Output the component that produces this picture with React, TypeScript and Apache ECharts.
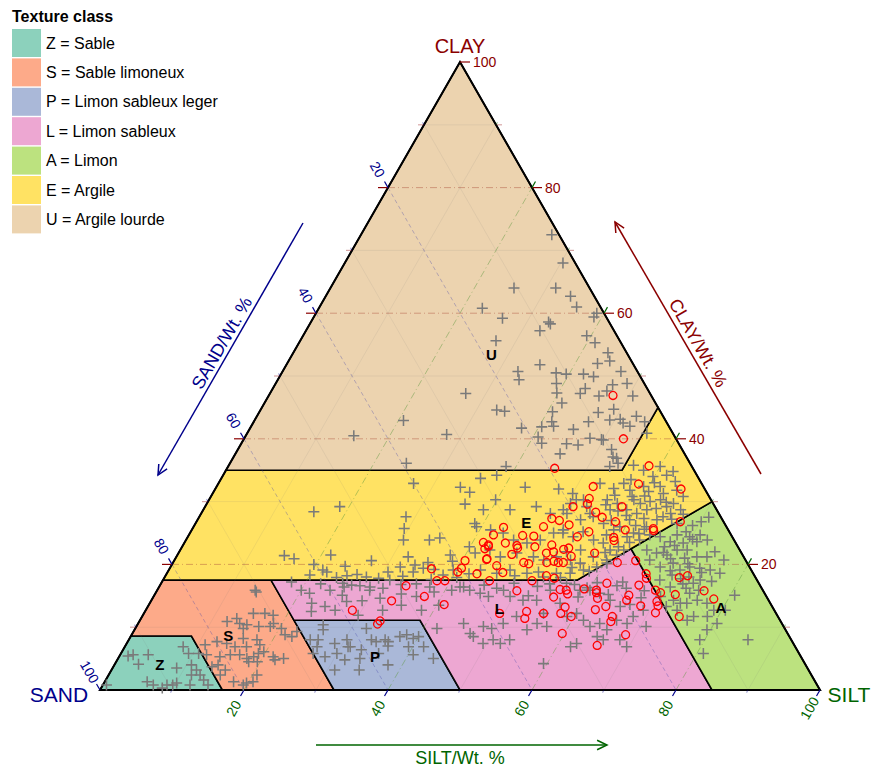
import React, { useEffect, useRef } from 'react';
import * as echarts from 'echarts';

// ---------------- data ----------------
const FONT = 'Liberation Sans, Arial, Helvetica, sans-serif';
const classNames = ['Z = Sable', 'S = Sable limoneux', 'P = Limon sableux leger', 'L = Limon sableux', 'A = Limon', 'E = Argile', 'U = Argile lourde'];
const classCodes = ['Z', 'S', 'P', 'L', 'A', 'E', 'U'];
const classColors = ['#8cd1bc', '#fdaa89', '#aab8d8', '#eda7d2', '#bce27f', '#ffe263', '#ecd3af'];

// class boundaries, vertices as [clay %, silt %]
const polyZ = [[0, 0], [0, 17], [8.6, 8.4], [8.6, 0]];
const polyS = [[8.6, 0], [17.5, 0], [17.5, 15], [11.1, 21.4], [0, 32.5], [0, 17], [8.6, 8.4]];
const polyP = [[0, 32.5], [11.1, 21.4], [11.1, 38.9], [0, 50]];
const polyL = [[17.5, 15], [17.5, 57.5], [20, 60], [22.5, 62.5], [0, 85], [0, 50], [11.1, 38.9], [11.1, 21.4]];
const polyA = [[22.5, 62.5], [30, 70], [0, 100], [0, 85]];
const polyE = [[17.5, 0], [35, 0], [35, 55], [45, 55], [30, 70], [22.5, 62.5], [20, 60], [17.5, 57.5]];
const polyU = [[35, 0], [100, 0], [45, 55], [35, 55]];
const classPolygons = [polyZ, polyS, polyP, polyL, polyA, polyE, polyU];
const classLabelPos = [[4, 6.3], [8.6, 13.5], [5.4, 35.5], [12.9, 49], [13.1, 79.7], [26.6, 45.9], [53.5, 27.6]];

const tickValues = [10, 20, 30, 40, 50, 60, 70, 80, 90, 100];
const gridValues = [10, 20, 30, 40, 50, 60, 70, 80, 90];

// samples as [clay %, silt %]
const grayPoints = [
  // U
  [72.5, 26.5], [68, 30.3], [64, 25.5], [64, 31.3], [62.7, 34], [61, 35.7], [60.8, 22.7], [59.2, 26.3], [58.6, 33], [58.3, 33.4],
  [57.2, 32.5], [59.4, 38.9], [60, 39], [56.4, 39.4], [55.3, 41.1], [55.6, 27.2], [53.7, 43.7], [52.4, 44.6], [52, 43.1], [51.8, 35.2],
  [50.7, 32.7], [49.4, 33.5], [50.5, 38.1], [50.3, 39.6], [50.3, 42], [49.9, 43.6], [50.7, 47], [48.8, 39], [47.3, 39.8], [47.2, 43.1],
  [48, 43.4], [48.6, 46.9], [47.6, 46.6], [48.8, 48.8], [46.8, 45.9], [46.8, 50.6], [45.7, 41.3], [44.4, 34], [44.3, 40.7], [44.2, 47.1],
  [44.7, 49], [42.7, 46.5], [43, 49.3], [43.1, 50.7], [42.5, 51.4], [42, 52.6], [43.6, 52.7], [42.7, 54.3], [42.7, 41.4], [41.9, 40.4],
  [42, 42], [41.7, 37.7], [40.3, 40.7], [39.3, 41.7], [41.5, 45], [40.1, 48], [39.9, 49.7], [39.2, 45.2], [39, 46.9], [37.6, 45.1],
  [38.3, 51.9], [37.1, 52.7], [36.9, 53.3], [36.1, 53.9], [47.2, 27.2], [42.9, 20.7], [40.5, 15], [40.7, 27.8], [36.1, 24.5], [35.6, 38.6],
  [39.8, 50], [40.9, 55.5], [35.6, 53], [44.6, 32.8],
  // E
  [32.9, 27.1], [29.2, 18.7], [28.4, 15.5], [32.3, 33.9], [31.5, 35.6], [29.6, 35.9], [26.5, 38.8], [27.6, 28.7], [25.7, 29.4], [23.9, 30.2],
  [23.9, 33.8], [24.2, 35.1], [22.8, 39.9], [21.4, 14.9], [20.9, 16.5], [21.5, 21.3], [20, 19.7], [21.2, 32.2], [19.1, 21.4], [18.8, 22.1],
  [19.6, 31.9], [19.9, 33.8], [18.8, 34.1], [18.8, 30.6], [21.5, 37.9], [20.5, 38.7], [19.1, 39.5], [18.3, 20], [17.9, 23.9], [18.2, 25.2],
  [18, 28], [17.8, 29.8], [17.6, 37.2], [18.3, 38.5], [19.4, 35.2],
  [35.8, 56.2], [35, 58], [35.6, 60], [34.2, 61.6], [34.8, 62.2], [34, 59.8], [32.9, 53], [32.1, 55.3], [32.9, 56.3], [31.8, 57.7],
  [32.4, 59.3], [31.6, 60.4], [32.4, 61.6], [31.3, 62.6], [31.8, 64.2], [30.8, 65.6], [31.3, 50], [30.3, 52], [30.3, 55.3], [29.7, 57],
  [30.3, 59], [29.7, 60.2], [30, 61.4], [30.3, 62.7], [29.2, 64.1], [29.7, 64.8], [28.7, 66.3], [28.7, 61.6], [28.1, 60.5], [28.7, 58.8],
  [28.7, 56.5], [28.1, 50.8], [27.1, 53.2], [27.6, 54.7], [26.5, 56.7], [26, 59.2], [27.1, 60], [27.3, 61.9], [26, 62.9], [27.1, 63.8],
  [27.6, 64.4], [28.1, 65.2], [26.5, 66.9], [25, 51.8], [24.4, 53.5], [25.2, 54.5], [23.9, 56.6], [24.7, 58], [25.5, 58.6], [24.4, 61],
  [25, 61.6], [23.9, 63], [24.7, 64], [22, 53.8], [22.3, 55.6], [21.2, 57.9], [20.7, 60], [21.5, 61], [22.3, 61.6],
  [33.7, 36], [34.2, 38], [32.3, 42.9], [32, 47.7], [30.3, 39.8], [28.7, 38.9], [28.7, 42.6], [29.2, 46], [28.1, 48.5], [28.7, 50],
  [29.7, 50.5], [30.3, 51], [29.2, 53], [28.1, 54], [26, 39.3], [25.5, 41.5], [25, 43.5], [23.9, 45.5], [23.4, 47.6], [23.9, 49.2],
  [25, 50.5], [25.5, 51.6], [23.4, 58.2], [22.3, 59.7], [22.3, 43], [21.2, 45], [21.8, 47], [21.2, 49.6], [20.7, 51.3], [21.2, 52.8],
  [20.7, 55], [20.2, 56.6], [19.1, 43.3], [18.6, 45.8], [19.1, 47.4], [18.6, 50], [18, 52.6], [18.6, 54.1], [18.6, 56], [19.1, 57.6],
  [19.6, 59.2], [20.2, 60.3], [18.5, 42], [18.2, 48.5], [18.8, 51.5], [17.9, 55], [18.9, 58.5], [19.5, 55.8],
  [33.5, 57], [33, 60.5], [31, 56], [30.8, 58.5], [29.5, 55.5], [28.5, 57.7], [27.8, 59.2], [27, 57.5], [26.2, 61.3], [25.6, 62.8],
  [24.9, 62.4], [23.5, 61.8], [22.8, 60.6], [21.9, 59.2], [28.9, 62.8], [30.9, 60.2], [29.9, 63.7], [33.2, 63.3], [28, 67], [27.2, 65.8],
  [18.4, 26.5], [19.7, 24.2], [20.6, 27.4], [18.1, 33], [19.2, 36.8], [17.9, 40.6], [20.3, 35.4], [21.8, 41.2],
  // L
  [17.2, 18], [17, 25.2], [16.7, 26.6], [16.6, 27.8], [16.4, 29.3], [16.4, 37.6], [17.5, 31.5], [15.4, 21.4], [13.8, 22.5], [12.5, 23.1],
  [15.9, 24], [16.4, 25.7], [14.1, 27.2], [15.9, 29.5], [14.6, 31.6], [12.7, 32.9], [13.5, 35.1], [14.9, 36.5], [12.7, 38.3], [11.9, 29.9],
  [13.5, 40.3], [15.9, 40.9], [16.4, 41.8], [7.4, 49.5], [9.8, 49.5], [9.8, 41.9], [15.9, 20], [13.3, 24.6], [12.7, 26.3],
  [16.4, 42.3], [15.9, 43.4], [15.4, 45.1], [14.9, 46.5], [15.9, 48.1], [14.9, 49.5], [14.3, 51.6], [14.3, 53.5], [15.9, 54.6], [17, 56.3],
  [15.9, 58.7], [10.6, 45.2], [9, 46.9], [10.1, 48.2], [8, 50.6], [7.4, 51.9], [8, 52.9], [10.6, 50.7], [11.7, 52], [9.6, 54.5],
  [10.6, 55.4], [10.1, 57], [12.2, 55.5], [11.7, 59], [12.2, 60.1], [11.1, 61.6], [10.1, 63], [10.6, 64.1], [9.6, 65.6], [11.1, 66.2],
  [10.6, 67.9], [11.7, 68.2], [12.7, 69.1], [10.1, 70.8], [8, 68.2], [6.9, 69.7], [8, 65.9], [8.5, 64.8], [7.4, 62.5], [6.9, 61.9],
  [4.2, 59.5], [8.5, 47.6], [13.8, 57], [14.3, 63.7], [13.3, 65.6], [15.4, 61.7], [15.9, 60.1],
  [16.7, 45], [16.2, 47], [17, 49], [16.5, 52.5], [16.9, 54], [15, 52], [16.8, 57.5], [16.3, 59.5], [17.1, 60.5], [14.8, 59],
  [16.6, 63.5], [15.2, 63], [16.2, 65], [17.2, 64], [14.7, 67.8], [13.6, 66.8], [15.8, 67.7],
  [16.9, 22.2], [15.1, 26.1], [16.8, 33.4], [15.3, 34.2], [16.2, 31.2], [14.2, 29.3], [15.6, 38.6], [16.9, 35.5],
  // P
  [9.8, 32.1], [8, 33.7], [7.7, 34.5], [8, 35.6], [7, 36.5], [8, 30.3], [6.9, 31.3], [5.8, 30], [4.8, 31.6], [3.2, 31],
  [5, 33.6], [3.2, 34.4], [4, 38], [8.5, 37.4], [8.8, 38.2], [8.2, 39.4], [8.5, 40], [6.9, 41.5], [5, 43.8], [5.6, 40.7],
  [5.8, 26.7], [6.9, 26.7], [5.3, 28.6], [8, 25.2], [8, 26.3], [10.4, 25.8], [9.6, 26.2], [7.4, 28.9], [6.9, 31], [6.4, 33.1],
  [7.7, 36.2], [6.9, 39.4], [5.8, 35.8],
  // S
  [15.9, 13.6], [15.6, 13.9], [12.2, 15.2], [12.2, 16.8], [11.9, 18.1], [10.9, 12.2], [11.4, 13.3], [10.6, 14.1], [10.4, 15.2], [9.8, 15],
  [10.1, 17], [10.1, 18.6], [9.8, 20.3], [10.6, 18.8], [8.8, 21.3], [8.5, 22.4], [9.3, 22.7], [7.7, 12.4], [7.4, 13.9], [6.9, 15.3],
  [8.2, 15.8], [6.9, 16.9], [8, 17.8], [7.2, 18.6], [7.2, 11], [5.3, 14], [5.6, 15.3], [5.6, 16.6], [5, 17.9], [5.3, 18.7],
  [5.8, 19.1], [6.1, 19.7], [4.5, 19.6], [4.5, 18.4], [5.3, 21.4], [4.8, 21.9], [5, 23], [4, 14.4], [3.7, 13.7], [3.2, 15.8],
  [2.4, 15.5], [1.3, 17.9], [0.8, 19.5], [1.1, 19.8], [1.3, 20.6], [2.4, 20.6],
  // Z
  [5.6, 1.8], [4.1, 3.3], [5.6, 3.9], [3.5, 8.9], [1.1, 10.1], [6.9, 8.1], [5.8, 9.4], [4, 10.7], [3.2, 11.8], [2.4, 12.7],
  [2.4, 11.5], [1.6, 13.6], [0.8, 14.6], [0.8, 12.1], [1.3, 5.9], [0.8, 7], [0.3, 8.5], [0.8, 8.9], [0.8, 0.5], [5.8, 10.8],
  [5.6, 12], [0.8, 9.7], [5.4, 1.2],
  // A
  [24.4, 65.6], [23.6, 67.4], [24.7, 67.8], [23.4, 69.3], [24.4, 69.7], [23.6, 71.1], [24.7, 71], [23.9, 72.4], [22.3, 64.8], [21.8, 66.4],
  [21.5, 68], [22.3, 69], [22.3, 70.4], [21.2, 72.3], [21.2, 73.7], [22, 74.4], [20.7, 76.3], [20.7, 66], [19.6, 68], [20.2, 69.5],
  [19.1, 71], [19.6, 72.1], [19.4, 73.6], [19.1, 75.2], [18.6, 76.8], [17.5, 69], [16.4, 71], [17, 73.9], [17.5, 74.6], [15.4, 74.2],
  [14.3, 75.8], [13.8, 77.4], [13.8, 74.6], [14.9, 70.4], [13.3, 72], [14.3, 72.5], [13.8, 73.7], [11.7, 76.6], [11.7, 78.5], [12.7, 78.9],
  [10.6, 80.4], [9.6, 79.5], [8, 79.3], [5.8, 80.9], [8, 86], [12.7, 73.8], [11.1, 76], [15.1, 80.6], [12.7, 80.5],
  [22.8, 67], [23, 68.3], [21.9, 67.3], [20.9, 68.8], [21, 70.7], [20.1, 71.6], [19, 69.7], [18.3, 70.3], [18, 72.8], [17.7, 71.8],
  [16.9, 72.5], [16.2, 73.3], [15.9, 75.2], [17.3, 76.3], [18.7, 74.2], [24, 70.3], [25.2, 68.8], [26.2, 69.2], [26.8, 70.1], [27.5, 70.8],
];

const redPoints = [
  [46.9, 47.8], [40, 52.7], [35.3, 45.5],
  [19.3, 36.4], [17.4, 38.1], [17.4, 39.2], [18.8, 40.3], [19.4, 40.5], [20.6, 40.4], [18.5, 43.1], [16.6, 34.2], [20.8, 43.3], [17.4, 45.4],
  [23.5, 41.5], [22.9, 42.5],
  [14.9, 37.6], [14.2, 33.4], [13.6, 41], [12.7, 28.7], [11, 33.4], [10.5, 33.3],
  [35.7, 58.4], [32.8, 58.4], [32, 64.7], [32.4, 52.3], [30.5, 52.7], [29.6, 52.9], [29.2, 51.1], [29.2, 57.9], [28.3, 54.7], [27.5, 56],
  [26.8, 58.2], [25.5, 60.2], [25.7, 64], [25.4, 64.2], [26.8, 67.2], [25.2, 55.3], [26.3, 52], [27, 50.3], [27.3, 49.1], [26, 48.6],
  [24.4, 54.1], [24.3, 59.2], [23.8, 59.5], [21.8, 57.8], [25.9, 43.1], [24.7, 42.3], [24.6, 46.4], [24.5, 48], [23.1, 42.4], [22.5, 42.2],
  [23.4, 44.6], [23, 46.4], [22.6, 46.7], [22.8, 49], [23.1, 51.2], [22, 52], [21.8, 51.1], [22.4, 53.2], [22.6, 53.8], [21.3, 54.8],
  [21.6, 46.4], [20.9, 43.3], [19.8, 45.2], [20.3, 48.7], [20.1, 49.5], [20.3, 51.9], [20.5, 52.8], [20.3, 53.5], [20.3, 54.2], [18.7, 46.6],
  [18.2, 52.9], [17.8, 54.2], [17.4, 51.3],
  [15.8, 50], [12.2, 49.4], [12.5, 53], [11.4, 53.3], [12.2, 55.5], [14.8, 55.6], [16, 55.9], [15.3, 57.3], [12.2, 57.9], [13.2, 58],
  [11.7, 59.6], [16.1, 59.2], [15.9, 61], [14.6, 61.8], [12.8, 62.4], [13.3, 63.6], [17, 61.9], [10.9, 65.5], [14.3, 66], [15.1, 65.9],
  [16.7, 66.5], [13.4, 68.4], [8.8, 68.6], [7.1, 65.5], [9, 59.7], [15.9, 69.2], [14.1, 70.3], [13.4, 70.8], [12.3, 71], [18.5, 66.6],
  [17.8, 67], [20.6, 64.1], [20.3, 61.7], [11.7, 65.3], [15.5, 61.2], [15.9, 56.8],
  [17.9, 71.5], [18.2, 72.5], [15.2, 72.3], [15.8, 76], [14.5, 78], [11.7, 74.6], [15.5, 70.1],
];

// ternary [clay, silt] -> cartesian [x, y] in axis units
const toXY = (c: number, s: number) => [s + c / 2, c];

const CROSS = 'path://M0,4.3H10V5.7H0Z M4.3,0H5.7V10H4.3Z';
const DARKRED = '#8B0000';
const DARKBLUE = '#00008B';
const DARKGREEN = '#006400';

function norm(v: number[]) {
  const l = Math.hypot(v[0], v[1]);
  return [v[0] / l, v[1] / l];
}

function txt(text: string, x: number, y: number, color: string, size: number, rotation = 0, weight = 'normal', align = 'center') {
  return {
    type: 'text', x, y, rotation, silent: true,
    style: {
      text, fill: color, fontSize: size, fontFamily: FONT, fontWeight: weight,
      align, verticalAlign: 'middle', textAlign: align, textVerticalAlign: 'middle',
    },
  };
}

function arrow(x1: number, y1: number, x2: number, y2: number, color: string) {
  const d = norm([x2 - x1, y2 - y1]);
  const len = 11, ang = 0.45;
  const back = [-d[0], -d[1]];
  const rot = (v: number[], a: number) => [v[0] * Math.cos(a) - v[1] * Math.sin(a), v[0] * Math.sin(a) + v[1] * Math.cos(a)];
  const a1 = rot(back, ang), a2 = rot(back, -ang);
  return [
    { type: 'line', silent: true, shape: { x1, y1, x2, y2 }, style: { stroke: color, lineWidth: 1.5 } },
    {
      type: 'polyline', silent: true,
      shape: { points: [[x2 + a1[0] * len, y2 + a1[1] * len], [x2, y2], [x2 + a2[0] * len, y2 + a2[1] * len]] },
      style: { stroke: color, lineWidth: 1.5, fill: 'none' },
    },
  ];
}

export default function App() {
  const ref = useRef<HTMLDivElement>(null);

  useEffect(() => {
    if (!ref.current) return;
    const chart = echarts.init(ref.current, null, { renderer: 'svg' });

    const classSeries = classCodes.map((code, i) => ({
      type: 'custom',
      name: classNames[i],
      coordinateSystem: 'cartesian2d',
      silent: true,
      z: 1,
      itemStyle: { color: classColors[i] },
      data: [toXY(classLabelPos[i][0], classLabelPos[i][1])],
      renderItem: (params: any, api: any) => ({
        type: 'polygon',
        shape: { points: classPolygons[i].map(([c, s]) => api.coord(toXY(c, s))) },
        style: { fill: classColors[i], stroke: '#000', lineWidth: 1.6 },
      }),
    }));

    const gridData: number[][] = [];
    [0, 1, 2].forEach((k) => gridValues.forEach((v) => gridData.push([k, v])));

    const gridSeries = {
      type: 'custom',
      name: 'grid',
      coordinateSystem: 'cartesian2d',
      silent: true,
      z: 2,
      data: gridData,
      renderItem: (params: any, api: any) => {
        const k = api.value(0), v = api.value(1);
        let a: number[], b: number[];
        if (k === 0) { a = [v, 0]; b = [v, 100 - v]; }
        else if (k === 1) { a = [100 - v, 0]; b = [0, 100 - v]; }
        else { a = [0, v]; b = [100 - v, v]; }
        const p1 = api.coord(toXY(a[0], a[1]));
        const p2 = api.coord(toXY(b[0], b[1]));
        const major = v % 20 === 0;
        const colors = major
          ? ['rgba(170,80,60,0.45)', 'rgba(70,70,170,0.35)', 'rgba(90,150,60,0.45)']
          : ['rgba(120,120,120,0.14)', 'rgba(120,120,120,0.14)', 'rgba(120,120,120,0.14)'];
        const dash = major ? (k === 1 ? [4, 3] : [7, 3, 1, 3]) : null;
        return {
          type: 'line',
          shape: { x1: p1[0], y1: p1[1], x2: p2[0], y2: p2[1] },
          style: { stroke: colors[k], lineWidth: major ? 1 : 0.8, lineDash: dash },
        };
      },
    };

    const outlineSeries = {
      type: 'custom',
      name: 'outline',
      coordinateSystem: 'cartesian2d',
      silent: true,
      z: 3,
      data: [[50, 50]],
      renderItem: (params: any, api: any) => ({
        type: 'polygon',
        shape: { points: [[0, 0], [0, 100], [100, 0]].map(([c, s]) => api.coord(toXY(c, s))) },
        style: { fill: 'none', stroke: '#000', lineWidth: 2 },
      }),
    };

    const tickData: number[][] = [];
    [0, 1, 2].forEach((k) => tickValues.forEach((v) => tickData.push([k, v])));

    const tickSeries = {
      type: 'custom',
      name: 'ticks',
      coordinateSystem: 'cartesian2d',
      silent: true,
      z: 3,
      data: tickData,
      renderItem: (params: any, api: any) => {
        const k = api.value(0), v = api.value(1);
        const O = api.coord(toXY(0, 0));
        const S = api.coord(toXY(0, 100));
        const A = api.coord(toXY(100, 0));
        const uSilt = norm([A[0] - O[0], A[1] - O[1]]);
        const uSand = norm([A[0] - S[0], A[1] - S[1]]);
        const major = v % 20 === 0;
        const L = major ? 9 : 5;
        const alpha = major ? 1 : 0.35;
        const children: any[] = [];
        const seg = (p: number[], d: number[], len: number, color: string) => ({
          type: 'line',
          shape: { x1: p[0], y1: p[1], x2: p[0] + d[0] * len, y2: p[1] + d[1] * len },
          style: { stroke: color, lineWidth: 1.2, opacity: alpha },
        });
        if (k === 0) {
          const P = api.coord(toXY(v, 100 - v));
          children.push(seg(P, [1, 0], L + 1, DARKRED));
          if (v < 100) children.push(seg(P, uSilt, L - 2, DARKGREEN));
          if (major) children.push(txt(String(v), P[0] + 13, P[1], DARKRED, 14, 0, 'normal', 'left'));
        } else if (k === 1) {
          const P = api.coord(toXY(100 - v, 0));
          if (v < 100) children.push(seg(P, [-1, 0], L + 1, DARKRED));
          children.push(seg(P, uSand, L - 2, DARKBLUE));
          if (major) children.push(txt(String(v), P[0] + uSand[0] * 21, P[1] + uSand[1] * 21, DARKBLUE, 14, -Math.PI / 3));
        } else {
          const P = api.coord(toXY(0, v));
          children.push(seg(P, [-uSilt[0], -uSilt[1]], L - 2, DARKBLUE));
          if (major) children.push(txt(String(v), P[0] - uSilt[0] * 21, P[1] - uSilt[1] * 21, DARKGREEN, 14, Math.PI / 3));
        }
        return { type: 'group', children };
      },
    };

    const labelSeries = {
      type: 'custom',
      name: 'class labels',
      coordinateSystem: 'cartesian2d',
      silent: true,
      z: 6,
      data: classLabelPos.map(([c, s]) => toXY(c, s)),
      renderItem: (params: any, api: any) => {
        const p = api.coord([api.value(0), api.value(1)]);
        return txt(classCodes[params.dataIndex], p[0], p[1], '#000', 15, 0, 'bold');
      },
    };

    const option: any = {
      animation: false,
      textStyle: { fontFamily: FONT },
      grid: { left: 100, top: 62, width: 720, height: 628 },
      xAxis: { type: 'value', min: 0, max: 100, show: false },
      yAxis: { type: 'value', min: 0, max: 100, show: false },
      legend: {
        data: classNames,
        orient: 'vertical',
        left: 12,
        top: 29,
        padding: 0,
        itemWidth: 29,
        itemHeight: 28,
        itemGap: 1.4,
        icon: 'rect',
        selectedMode: false,
        textStyle: { fontSize: 16, color: '#000', fontFamily: FONT },
      },
      graphic: [
        txt('Texture class', 12, 16, '#000', 16, 0, 'bold', 'left'),
        txt('CLAY', 460, 46, DARKRED, 20),
        txt('SAND', 59, 694, DARKBLUE, 21),
        txt('SILT', 849, 694, DARKGREEN, 21),
        txt('SAND/Wt. %', 222, 343, DARKBLUE, 18, 1.049),
        txt('CLAY/Wt. %', 698, 343, DARKRED, 18, -1.05),
        txt('SILT/Wt. %', 460, 758, DARKGREEN, 18),
        ...arrow(303, 223, 158, 475, DARKBLUE),
        ...arrow(761, 474, 615, 222, DARKRED),
        ...arrow(316, 745, 607, 745, DARKGREEN),
      ],
      series: [
        ...classSeries,
        gridSeries,
        outlineSeries,
        tickSeries,
        {
          type: 'scatter',
          name: 'samples',
          silent: true,
          z: 4,
          symbol: CROSS,
          symbolSize: 11,
          itemStyle: { color: '#7a7a7a', opacity: 1 },
          data: grayPoints.map(([c, s]) => toXY(c, s)),
        },
        {
          type: 'scatter',
          name: 'highlighted',
          silent: true,
          z: 5,
          symbol: 'circle',
          symbolSize: 8,
          itemStyle: { color: 'rgba(0,0,0,0)', borderColor: '#ff0000', borderWidth: 1.3, opacity: 1 },
          data: redPoints.map(([c, s]) => toXY(c, s)),
        },
        labelSeries,
      ],
    };

    chart.setOption(option);
    return () => chart.dispose();
  }, []);

  return <div ref={ref} style={{ position: 'fixed', left: 0, top: 0, width: 880, height: 771, background: '#fff' }} />;
}
